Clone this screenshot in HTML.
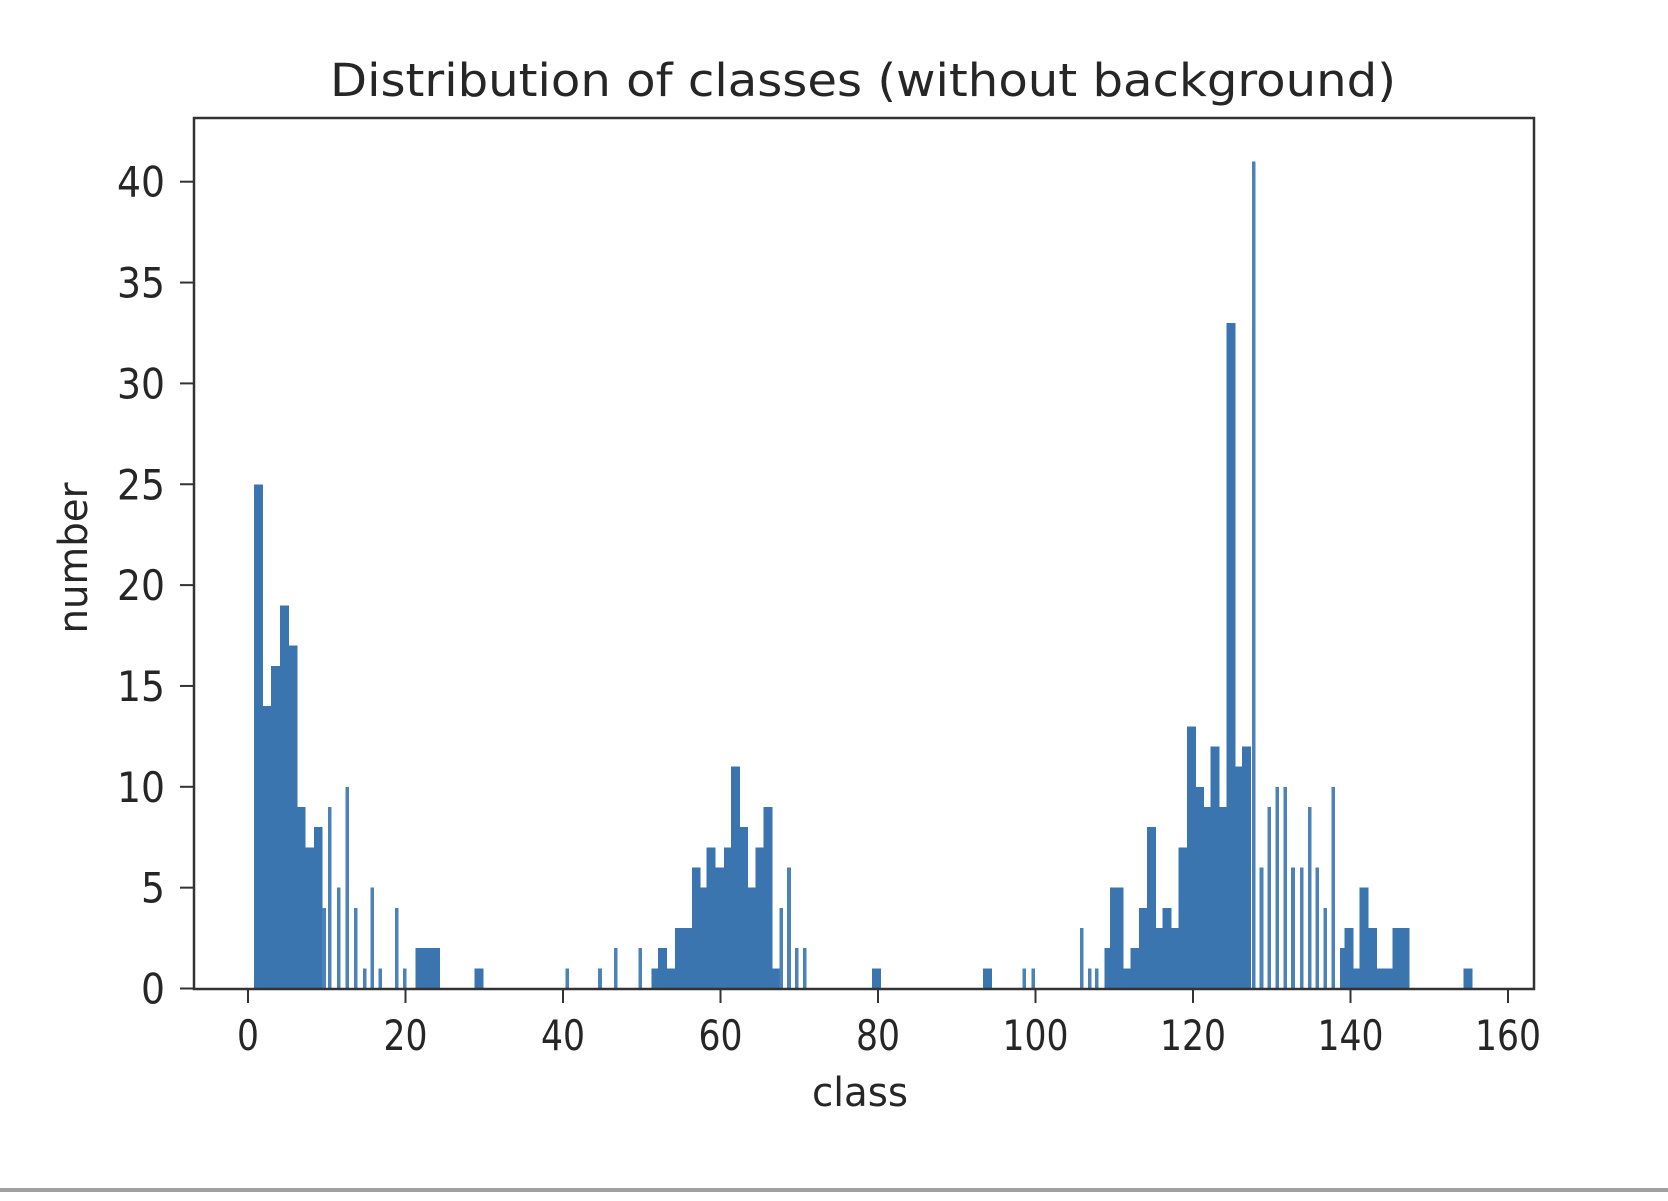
<!DOCTYPE html>
<html>
<head>
<meta charset="utf-8">
<style>
  html, body { margin: 0; padding: 0; background: #fff; }
  body { width: 1668px; height: 1196px; overflow: hidden; }
  svg text { font-family: "DejaVu Sans", "Liberation Sans", sans-serif; fill: #262626; }
</style>
</head>
<body>
<svg id="chart" width="1668" height="1196" viewBox="0 0 1668 1196" xmlns="http://www.w3.org/2000/svg">
  <rect x="0" y="0" width="1668" height="1196" fill="#ffffff"/>
  <text x="863" y="96" font-size="45" text-anchor="middle" textLength="1066" lengthAdjust="spacingAndGlyphs">Distribution of classes (without background)</text>
  <g id="bars"></g>
  <g id="xticks"></g>
  <g id="yticks"></g>
  <rect x="194" y="118" width="1340" height="871" fill="none" stroke="#333" stroke-width="2.5"/>
  <text x="860" y="1106" font-size="40" text-anchor="middle" textLength="96" lengthAdjust="spacingAndGlyphs">class</text>
  <text x="0" y="0" font-size="40" text-anchor="middle" textLength="151" lengthAdjust="spacingAndGlyphs" transform="translate(87,558) rotate(-90)">number</text>
  <rect x="0" y="1188" width="1668" height="4" fill="#a0a0a0"/>
</svg>
<script>
// Histogram data: dense bins (start position in class units, count)
const denseStart = [0.8,1.9,3.0,4.1,5.2,6.2,7.3,8.4,21.3,22.3,23.3,28.8,
  51.3,52.1,53.2,54.3,55.3,56.4,57.2,58.3,59.4,60.5,61.4,62.4,63.4,64.5,65.5,66.5,79.3,93.4,
  108.8,109.5,110.1,111.1,112.1,113.2,114.2,115.2,116.2,117.2,118.2,119.3,120.3,121.3,122.3,123.3,124.3,125.3,126.3,
  138.7,139.3,140.2,141.2,142.3,143.3,144.4,145.4,146.4,154.4];
const denseCount = [25,14,16,19,17,9,7,8,2,2,2,1,
  1,2,1,3,3,6,5,7,6,7,11,8,5,7,9,1,1,1,
  2,5,5,1,2,4,8,3,4,3,7,13,10,9,12,9,33,11,12,
  2,3,1,5,3,1,1,3,3,1];
// Isolated (thin) bins: centre position in class units, count
const thinCenter = [9.65,10.4,11.5,12.6,13.7,14.8,15.8,16.8,18.9,19.9,
  40.55,44.7,46.7,49.8,67.7,68.7,69.7,70.7,98.6,99.7,
  105.9,106.9,107.8,127.7,128.7,129.7,130.7,131.7,132.7,133.8,134.8,135.8,136.8,137.8];
const thinCount = [4,9,5,10,4,1,5,1,4,1,
  1,1,2,2,4,6,2,2,1,1,
  3,1,1,41,6,9,10,10,6,6,9,6,4,10];
const xTickValues = [0,20,40,60,80,100,120,140,160];
const yTickValues = [0,5,10,15,20,25,30,35,40];

const NS = 'http://www.w3.org/2000/svg';
const X0 = 248, XU = 7.875;      // class 0 pixel, px per class
const Y0 = 988.5, YU = 20.17;    // count 0 pixel, px per count
function xs(v) { return X0 + v * XU; }
function ys(v) { return Y0 - v * YU; }
const BIN = 1.03, THIN = 0.45;

const gb = document.getElementById('bars');
for (let i = 0; i < denseStart.length; i++) {
  const r = document.createElementNS(NS, 'rect');
  r.setAttribute('x', xs(denseStart[i]) - 0.4);
  r.setAttribute('width', BIN * XU + 0.8);
  r.setAttribute('y', ys(denseCount[i]));
  r.setAttribute('height', Y0 - ys(denseCount[i]));
  r.setAttribute('fill', '#3a75b0');
  r.setAttribute('shape-rendering', 'crispEdges');
  
  
  gb.appendChild(r);
}
for (let i = 0; i < thinCenter.length; i++) {
  const r = document.createElementNS(NS, 'rect');
  r.setAttribute('x', xs(thinCenter[i] - THIN / 2));
  r.setAttribute('width', THIN * XU);
  r.setAttribute('y', ys(thinCount[i]));
  r.setAttribute('height', Y0 - ys(thinCount[i]));
  r.setAttribute('fill', '#4a82b9');
  r.setAttribute('shape-rendering', 'crispEdges');
  
  
  gb.appendChild(r);
}
const gx = document.getElementById('xticks');
xTickValues.forEach(v => {
  const l = document.createElementNS(NS, 'line');
  l.setAttribute('x1', xs(v)); l.setAttribute('x2', xs(v));
  l.setAttribute('y1', 989); l.setAttribute('y2', 1003);
  l.setAttribute('stroke', '#333'); l.setAttribute('stroke-width', '2');
  
  
  gx.appendChild(l);
  const t = document.createElementNS(NS, 'text');
  t.setAttribute('x', xs(v)); t.setAttribute('y', 1050);
  t.setAttribute('font-size', '42');
  t.setAttribute('text-anchor', 'middle');
  const s = String(v);
  t.setAttribute('textLength', s.length * 22);
  t.setAttribute('lengthAdjust', 'spacingAndGlyphs');
  t.textContent = s;
  
  
  gx.appendChild(t);
});
const gy = document.getElementById('yticks');
yTickValues.forEach(v => {
  const l = document.createElementNS(NS, 'line');
  l.setAttribute('x1', 180); l.setAttribute('x2', 194);
  l.setAttribute('y1', ys(v)); l.setAttribute('y2', ys(v));
  l.setAttribute('stroke', '#333'); l.setAttribute('stroke-width', '2');
  
  
  gy.appendChild(l);
  const t = document.createElementNS(NS, 'text');
  t.setAttribute('x', 165); t.setAttribute('y', ys(v) + 15);
  t.setAttribute('font-size', '42');
  t.setAttribute('text-anchor', 'end');
  const s = String(v);
  t.setAttribute('textLength', s.length * 24);
  t.setAttribute('lengthAdjust', 'spacingAndGlyphs');
  t.textContent = s;
  
  
  gy.appendChild(t);
});
</script>
</body>
</html>
